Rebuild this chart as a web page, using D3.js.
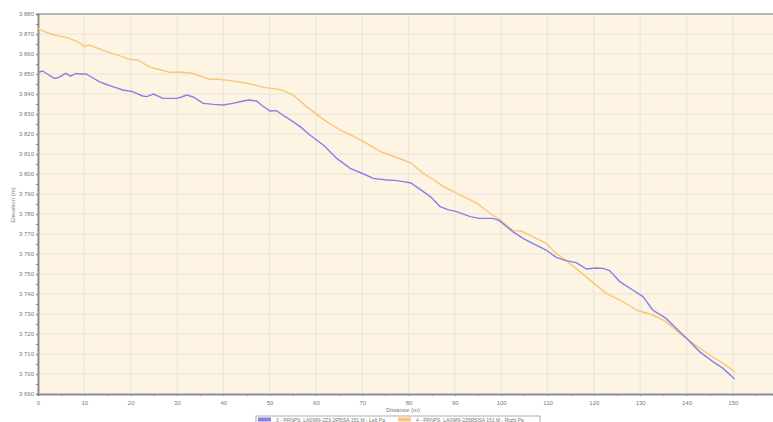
<!DOCTYPE html>
<html>
<head>
<meta charset="utf-8">
<script src="https://cdn.jsdelivr.net/npm/d3@7"></script>
<style>
    body { margin: 0; background: #fff; }
    text { font-family: "Liberation Sans", Arial, sans-serif; }
</style>
</head>
<body>
<script>
// left profile (blue)
var leftDist = [0, 1, 2, 3.5, 4.5, 6, 7, 8.2, 9, 10.4, 11.5, 13.2, 14.5, 16.1, 16.8, 18.3, 20.4, 22.6, 23.5, 24.9, 27, 30, 31, 32.1, 33.5, 35.7, 38, 40, 42, 44.3, 45.5, 47.2, 48.5, 50.1, 51.5, 52.5, 54.4, 56.6, 58.7, 61.6, 64.5, 67.4, 70.3, 72.4, 75.3, 77, 78.9, 80.5, 82.5, 84.7, 86.8, 88.5, 90.4, 93.3, 95.3, 98.2, 99.6, 102.5, 104.7, 106.8, 109.7, 111.9, 114, 116.2, 118.4, 120.5, 122, 123.4, 125.6, 128.4, 130.6, 132.7, 135.6, 137.8, 140.3, 142.8, 145.7, 147.9, 150.4];
var leftElev = [3850.8, 3851.5, 3850, 3847.8, 3848.3, 3850.3, 3848.9, 3850.3, 3850, 3850, 3848.5, 3846.2, 3845, 3843.7, 3843.2, 3842, 3841.2, 3839, 3838.7, 3840, 3837.8, 3837.8, 3838.5, 3839.5, 3838.5, 3835.3, 3834.8, 3834.5, 3835.3, 3836.5, 3837, 3836.5, 3834, 3831.5, 3831.7, 3830, 3827.2, 3823.7, 3819.5, 3814.5, 3807.8, 3802.8, 3800, 3797.8, 3797, 3796.8, 3796.2, 3795.5, 3792.3, 3788.7, 3783.7, 3782.2, 3781.2, 3778.7, 3777.8, 3777.8, 3776.7, 3771.2, 3767.8, 3765.3, 3762, 3758.3, 3756.7, 3755.7, 3752.5, 3753, 3752.8, 3751.7, 3746.2, 3742, 3738.7, 3732, 3727.8, 3722.8, 3717.3, 3711.2, 3706.2, 3702.8, 3697.5];

// right profile (orange)
var rightDist = [0, 1.4, 3.5, 5, 6.8, 8.9, 10, 11, 12.5, 15.4, 18, 19.7, 21.5, 24, 25.5, 28.5, 30.5, 31.4, 33, 35, 37, 38.5, 41.5, 44.3, 45.8, 48.7, 51.5, 53, 55.1, 58, 61.6, 65.2, 67.5, 70.3, 73.9, 76, 78.9, 80.5, 83.2, 85.5, 87.5, 89.5, 91.1, 94.8, 97.5, 100, 102.5, 104.3, 106.8, 109.7, 111.9, 114.8, 117, 119.8, 122.7, 125.6, 127.5, 129.2, 132.7, 135.6, 138.5, 141.4, 145, 147.9, 150.5];
var rightElev = [3872.8, 3871.2, 3869.5, 3868.8, 3867.8, 3865.7, 3863.7, 3864.5, 3863.2, 3860.7, 3858.8, 3857.3, 3857, 3853.7, 3852.6, 3850.8, 3851, 3850.8, 3850.5, 3849, 3847.3, 3847.5, 3846.7, 3845.7, 3845, 3843.3, 3842.5, 3841.7, 3839.5, 3833.7, 3827.3, 3822, 3819.5, 3816.2, 3811.2, 3809.5, 3807, 3805.5, 3800.3, 3797, 3793.7, 3791.5, 3789.5, 3785.3, 3780.5, 3776.7, 3771.7, 3771.5, 3768.7, 3765.3, 3760.3, 3755.3, 3751.2, 3745.7, 3740.3, 3737, 3734.5, 3732, 3729.5, 3726.2, 3720.3, 3715.3, 3709.5, 3705.3, 3701];

var xTicks = d3.range(0, 151, 10);
var yTicks = d3.range(3690, 3881, 10);
var seriesNames = ["3 - PRNPS_LA0989-2Z3-2R5ISA 151 M - Left Pa", "4 - PRNPS_LA0989-2Z6R5ISA 151 M - Right Pa"];
var colors = ["#8880e8", "#f9c776"];

var w = 773, h = 422;
var plotL = 38, plotT = 14, plotR = 773, plotB = 394;

var svg = d3.select("body").append("svg").attr("width", w).attr("height", h);

var x = d3.scaleLinear().domain([0, (plotR - plotL) / 4.632]).range([plotL, plotR]);
var y = d3.scaleLinear().domain([3690, 3880]).range([plotB, plotT]);

var fmt = d3.formatLocale({ decimal: ".", thousands: " ", grouping: [3], currency: ["", ""] }).format(",d");

// plot background
svg.append("rect")
    .attr("x", plotL).attr("y", plotT)
    .attr("width", plotR - plotL).attr("height", plotB - plotT)
    .attr("fill", "#fdf4e4");

// grid
var xGridVals = d3.range(0, x.domain()[1], 10);
svg.append("g").selectAll("line")
    .data(xGridVals)
    .enter().append("line")
    .attr("x1", d => x(d)).attr("x2", d => x(d))
    .attr("y1", plotT).attr("y2", plotB)
    .attr("stroke", "#f0e8de").attr("stroke-width", 1.5);
svg.append("g").selectAll("line")
    .data(yTicks)
    .enter().append("line")
    .attr("x1", plotL).attr("x2", plotR)
    .attr("y1", d => y(d)).attr("y2", d => y(d))
    .attr("stroke", "#f0e8de").attr("stroke-width", 1.5);

// top border
svg.append("line")
    .attr("x1", plotL).attr("x2", plotR)
    .attr("y1", plotT).attr("y2", plotT)
    .attr("stroke", "#bab4ae").attr("stroke-width", 2);

// axes
var xAxis = d3.axisBottom(x).tickValues(xTicks).tickSize(2).tickFormat(d3.format("d"));
var xMinor = d3.axisBottom(x).tickValues(d3.range(5, x.domain()[1], 10)).tickSize(2).tickFormat("");
var yAxis = d3.axisLeft(y).tickValues(yTicks).tickSize(2).tickFormat(fmt);
var yMinor = d3.axisLeft(y).tickValues(d3.range(3695, 3880, 10)).tickSize(2).tickFormat("");

svg.append("g").attr("transform", "translate(0," + plotB + ")").call(xMinor);
var xArea = svg.append("g").attr("transform", "translate(0," + plotB + ")").call(xAxis);
svg.append("g").attr("transform", "translate(" + plotL + ",0)").call(yMinor);
var yArea = svg.append("g").attr("transform", "translate(" + plotL + ",0)").call(yAxis);

svg.selectAll(".domain").attr("stroke", "#8a8a8a").attr("stroke-width", 1.5);
svg.selectAll(".tick line").attr("stroke", "#8a8a8a");
svg.selectAll(".tick text")
    .style("font-size", "6px")
    .attr("fill", "#7a7a7a");
xArea.selectAll("text").attr("dy", "0.95em");
yArea.selectAll("text").attr("x", -4).attr("dy", "0.32em");

// axis titles
svg.append("text")
    .attr("x", 403).attr("y", 412)
    .attr("text-anchor", "middle")
    .style("font-size", "6px").attr("fill", "#7a7a7a")
    .text("Distance (m)");
svg.append("text")
    .attr("transform", "translate(15,205) rotate(-90)")
    .attr("text-anchor", "middle")
    .style("font-size", "6px").attr("fill", "#7a7a7a")
    .text("Elevation (m)");

// profiles
var line = d3.line().x(d => x(d[0])).y(d => y(d[1]));
var leftData = leftDist.map((d, i) => [d, leftElev[i]]);
var rightData = rightDist.map((d, i) => [d, rightElev[i]]);

svg.append("path")
    .datum(rightData)
    .attr("fill", "none").attr("stroke", colors[1]).attr("stroke-width", 1.4)
    .attr("d", line);
svg.append("path")
    .datum(leftData)
    .attr("fill", "none").attr("stroke", colors[0]).attr("stroke-width", 1.4)
    .attr("d", line);

// legend
var legend = svg.append("g").attr("transform", "translate(256,416)");
legend.append("rect")
    .attr("width", 284).attr("height", 8)
    .attr("fill", "#fff").attr("stroke", "#9a9a9a").attr("stroke-width", 0.8);
var items = legend.selectAll(".item")
    .data(seriesNames)
    .enter().append("g")
    .attr("class", "item")
    .attr("transform", (d, i) => "translate(" + (i == 0 ? 2 : 142) + ",1.5)");
items.append("rect")
    .attr("width", 13).attr("height", 4)
    .attr("fill", (d, i) => colors[i]);
items.append("text")
    .attr("x", 18).attr("y", 4)
    .style("font-size", "5px").attr("fill", "#777")
    .text(d => d);
</script>
</body>
</html>
